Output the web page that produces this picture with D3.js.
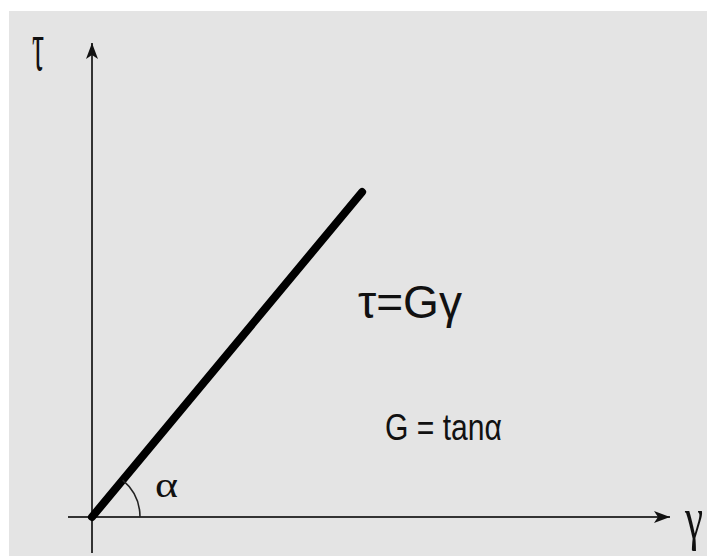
<!DOCTYPE html>
<html><head><meta charset="utf-8">
<script src="https://cdn.jsdelivr.net/npm/d3@7"></script>
<style>html,body{margin:0;padding:0;background:#fff;}svg{display:block;}</style>
</head><body>
<svg id="c" width="707" height="556"></svg>
<script>
// Data
const gammaValues = [0, 1];      // strain γ
const tauValues = [0, 1.2];      // stress τ = Gγ
const gammaDomain = [0, 2.14];
const tauDomain = [0, 1.75];
const labels = { eq: "τ=Gγ", g: "G = tanα", alpha: "α", xName: "γ", yName: "τ" };

const svg = d3.select("#c");
svg.append("rect").attr("x", 9).attr("y", 11).attr("width", 698).attr("height", 545).attr("fill", "#e4e4e4");

const x = d3.scaleLinear().domain(gammaDomain).range([92, 670]);
const y = d3.scaleLinear().domain(tauDomain).range([517, 43]);

const defs = svg.append("defs");
defs.append("marker").attr("id", "arr").attr("viewBox", "0 0 16 12").attr("refX", 16).attr("refY", 6)
  .attr("markerWidth", 16).attr("markerHeight", 12).attr("markerUnits", "userSpaceOnUse").attr("orient", "auto")
  .append("path").attr("d", "M0,0 L16,6 L0,12 L4,6 Z").attr("fill", "#111");

const axisColor = "#333";
// x axis
svg.append("line").attr("x1", x(0) - 24).attr("x2", x(gammaDomain[1])).attr("y1", y(0)).attr("y2", y(0))
  .attr("stroke", axisColor).attr("stroke-width", 2.2).attr("marker-end", "url(#arr)");
// y axis
svg.append("line").attr("x1", x(0)).attr("x2", x(0)).attr("y1", y(0) + 36).attr("y2", y(tauDomain[1]))
  .attr("stroke", axisColor).attr("stroke-width", 2).attr("marker-end", "url(#arr)");

// main line
const pts = gammaValues.map((g, i) => [x(g), y(tauValues[i])]);
svg.append("path").attr("d", d3.line()(pts)).attr("stroke", "#000").attr("stroke-width", 8)
  .attr("stroke-linecap", "round").attr("fill", "none");

// angle arc
const ang = Math.atan2(pts[0][1] - pts[1][1], pts[1][0] - pts[0][0]);
const r = 48;
svg.append("path")
  .attr("d", `M${x(0) + r},${y(0)} A${r},${r} 0 0 0 ${x(0) + r * Math.cos(ang)},${y(0) - r * Math.sin(ang)}`)
  .attr("stroke", "#222").attr("stroke-width", 1.6).attr("fill", "none");

const narrow = "'Liberation Sans Narrow','Arial Narrow','Liberation Sans',Arial,sans-serif";
const serif = "'Liberation Serif','Times New Roman',serif";
svg.append("text").attr("x", 358).attr("y", 318).attr("font-family", narrow).attr("font-size", 46)
  .attr("textLength", 104).attr("lengthAdjust", "spacingAndGlyphs").attr("fill", "#111").text(labels.eq);
svg.append("text").attr("x", 385).attr("y", 440).attr("font-family", narrow).attr("font-size", 36)
  .attr("textLength", 117).attr("lengthAdjust", "spacingAndGlyphs").attr("fill", "#111").text(labels.g);
svg.append("text").attr("x", 155).attr("y", 497).attr("font-family", serif)
  .attr("font-size", 36).attr("textLength", 23).attr("lengthAdjust", "spacingAndGlyphs").attr("fill", "#111").text(labels.alpha);
svg.append("text").attr("transform", "translate(685,538) scale(1,1.5)").attr("font-family", serif)
  .attr("font-size", 40).attr("textLength", 18).attr("lengthAdjust", "spacingAndGlyphs").attr("fill", "#111").text(labels.xName);
svg.append("text").attr("transform", "translate(32,70) scale(1,1.55)").attr("font-family", serif)
  .attr("font-size", 46).attr("textLength", 12).attr("lengthAdjust", "spacingAndGlyphs").attr("fill", "#111").text(labels.yName);
</script>
</body></html>
